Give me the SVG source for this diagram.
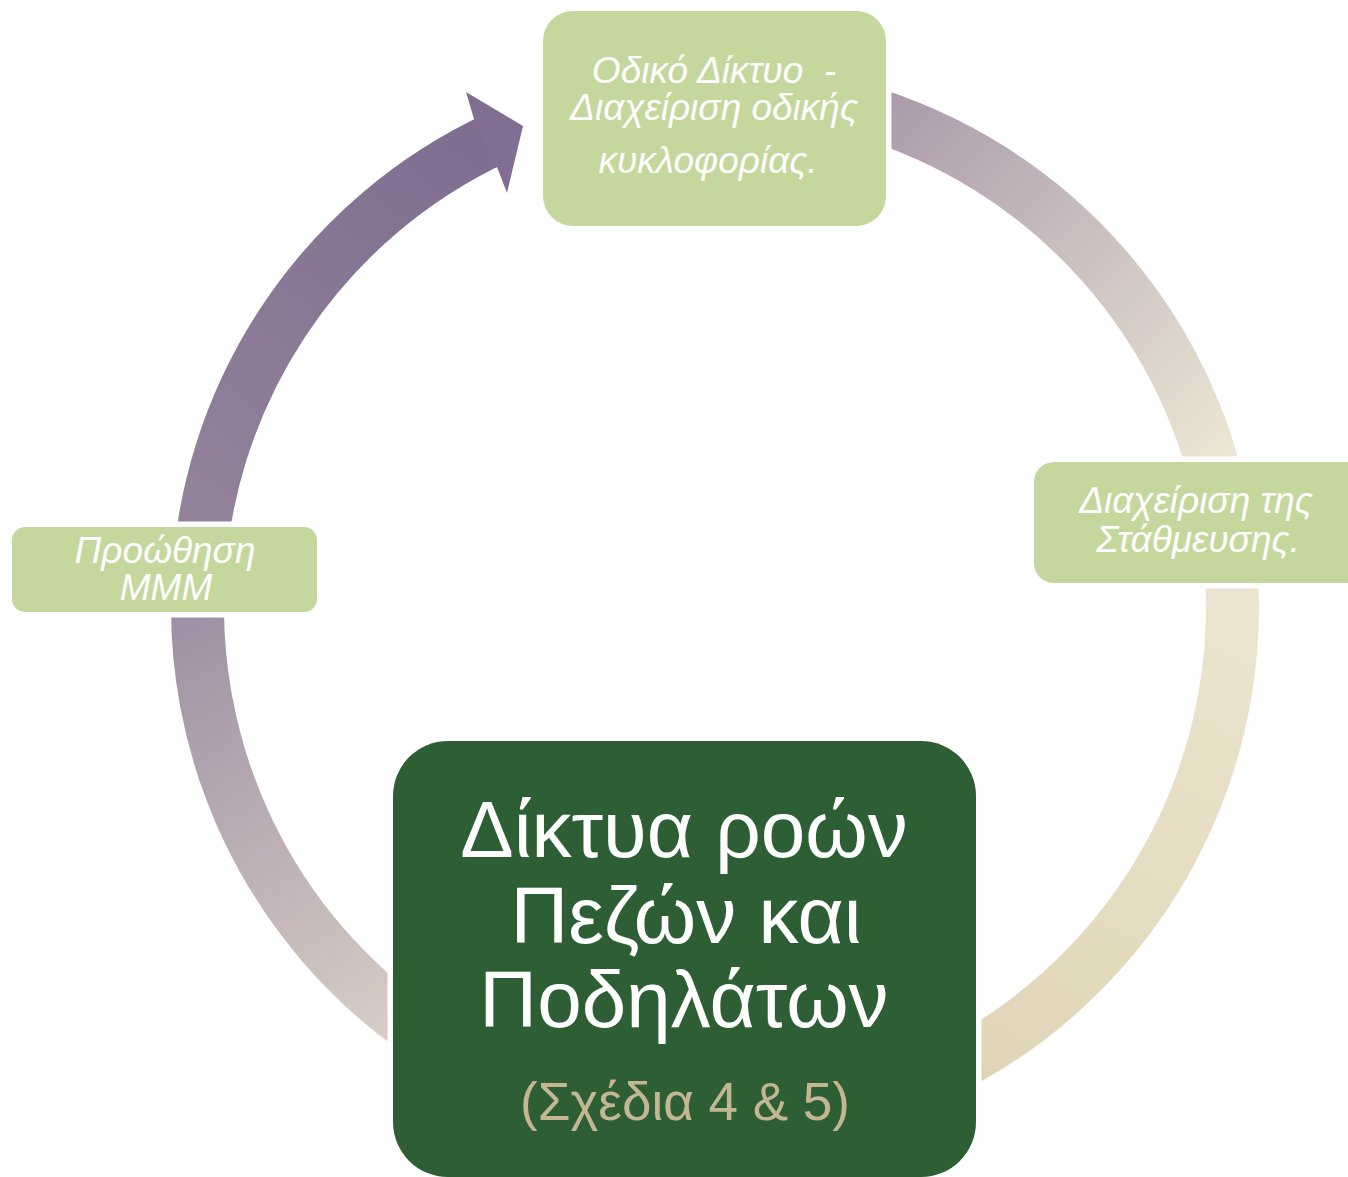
<svg xmlns="http://www.w3.org/2000/svg" width="1348" height="1177" viewBox="0 0 1348 1177">
  <style>
    .ring { fill: none; stroke-width: 53; stroke-linecap: butt; }
    .box { stroke: #ffffff; stroke-width: 11; paint-order: stroke; }
    .light { fill: #c4d79c; }
    .dark { fill: #2e5e34; }
    .small { font-family: "Liberation Sans", Arial, sans-serif; font-style: italic; font-size: 37px; fill: #ffffff; text-anchor: middle; white-space: pre; }
    .big { font-family: "Liberation Sans", Arial, sans-serif; font-size: 80px; fill: #ffffff; text-anchor: middle; }
    .sub { font-family: "Liberation Sans", Arial, sans-serif; font-size: 53px; fill: #c2b792; text-anchor: middle; }
  </style>
  <defs>
    <linearGradient id="g1" gradientUnits="userSpaceOnUse" x1="880" y1="110" x2="1225" y2="460">
      <stop offset="0" stop-color="#ab9bac"/>
      <stop offset="1" stop-color="#ede6d4"/>
    </linearGradient>
    <linearGradient id="g2" gradientUnits="userSpaceOnUse" x1="1230" y1="590" x2="960" y2="1070">
      <stop offset="0" stop-color="#ece4ce"/>
      <stop offset="1" stop-color="#e0d5b7"/>
    </linearGradient>
    <linearGradient id="g3" gradientUnits="userSpaceOnUse" x1="420" y1="1030" x2="200" y2="620">
      <stop offset="0" stop-color="#d9cec5"/>
      <stop offset="1" stop-color="#a191a6"/>
    </linearGradient>
    <linearGradient id="g4" gradientUnits="userSpaceOnUse" x1="200" y1="520" x2="500" y2="140">
      <stop offset="0" stop-color="#938299"/>
      <stop offset="1" stop-color="#7f6d91"/>
    </linearGradient>
  </defs>
  <rect x="0" y="0" width="1348" height="1177" fill="#ffffff"/>

  <g id="connectors">
    <path class="ring" stroke="url(#g1)" d="M860.3,110.3 A517.5,517.5 0 0 1 1225.1,520"/>
    <path class="ring" stroke="url(#g2)" d="M1228.1,540 A517.5,517.5 0 0 1 950,1068.1"/>
    <path class="ring" stroke="url(#g3)" d="M419.9,1032.1 A517.5,517.5 0 0 1 198.8,570"/>
    <path class="ring" stroke="url(#g4)" d="M197.8,590 A517.5,517.5 0 0 1 496.3,138"/>
    <polygon points="474,119 466,92 523,126 507,193 497,167" fill="#816e92"/>
  </g>

  <g id="node-top">
    <rect class="box light" x="543" y="11" width="343" height="215" rx="30" ry="30"/>
    <text class="small" x="714" y="83">Οδικό Δίκτυο  -</text>
    <text class="small" x="714" y="120">Διαχείριση οδικής</text>
    <text class="small" x="708" y="173">κυκλοφορίας.</text>
  </g>

  <g id="node-right">
    <rect class="box light" x="1034" y="462" width="400" height="121" rx="20" ry="20"/>
    <text class="small" x="1196" y="513">Διαχείριση της</text>
    <text class="small" x="1198" y="552">Στάθμευσης.</text>
  </g>

  <g id="node-left">
    <rect class="box light" x="12" y="527" width="305" height="85" rx="13" ry="13"/>
    <text class="small" x="165" y="563">Προώθηση</text>
    <text class="small" x="166" y="600">ΜΜΜ</text>
  </g>

  <g id="node-bottom">
    <rect class="box dark" x="393" y="741" width="583" height="436" rx="55" ry="55"/>
    <text class="big" x="684" y="857">Δίκτυα ροών</text>
    <text class="big" x="686" y="943">Πεζών και</text>
    <text class="big" x="684" y="1027">Ποδηλάτων</text>
    <text class="sub" x="685" y="1120">(Σχέδια 4 &amp; 5)</text>
  </g>
</svg>
